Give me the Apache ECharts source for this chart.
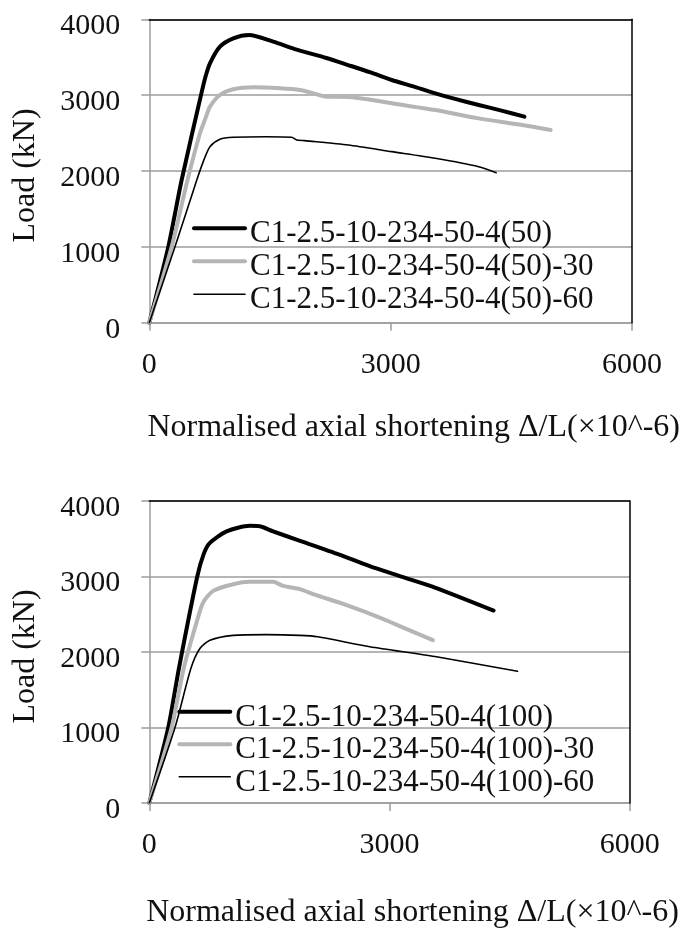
<!DOCTYPE html>
<html>
<head>
<meta charset="utf-8">
<script src="https://cdn.jsdelivr.net/npm/echarts@6/dist/echarts.min.js"></script>
<style>
  html, body { margin: 0; padding: 0; background: #fff; }
  #chart { width: 682px; height: 930px; }
</style>
</head>
<body>
<div id="chart"></div>
<script>
// Axis ticks
const xTicks = [0, 3000, 6000];
const yTicks = [0, 1000, 2000, 3000, 4000];

// Series names
const namesTop = ['C1-2.5-10-234-50-4(50)', 'C1-2.5-10-234-50-4(50)-30', 'C1-2.5-10-234-50-4(50)-60'];
const namesBottom = ['C1-2.5-10-234-50-4(100)', 'C1-2.5-10-234-50-4(100)-30', 'C1-2.5-10-234-50-4(100)-60'];

// Top panel: normalised shortening (×10^-6) and load (kN)
const top50X   = [0, 236, 402, 651, 700, 754, 878, 1044, 1240, 1540, 1831, 2200, 2472, 2750, 3013, 3300, 3554, 3800, 4094, 4365, 4662];
const top50Y   = [0, 1000, 1881, 3040, 3250, 3420, 3639, 3749, 3793, 3705, 3600, 3490, 3397, 3300, 3200, 3110, 3024, 2950, 2870, 2800, 2716];
const top50_30X = [0, 278, 475, 630, 700, 754, 878, 1044, 1292, 1624, 1872, 2050, 2201, 2472, 2750, 3013, 3554, 4094, 4635, 4987];
const top50_30Y = [0, 1000, 1881, 2497, 2700, 2848, 3002, 3077, 3103, 3090, 3068, 3020, 2980, 2975, 2940, 2892, 2804, 2694, 2606, 2540];
const top50_60X = [0, 319, 590, 680, 754, 878, 1044, 1458, 1769, 1831, 1931, 2472, 3013, 3554, 4094, 4311];
const top50_60Y = [0, 1000, 1881, 2150, 2320, 2418, 2444, 2452, 2444, 2410, 2400, 2343, 2255, 2167, 2057, 1978];

// Bottom panel
const bot100X   = [0, 237, 370, 599, 680, 757, 965, 1256, 1380, 1546, 1838, 2373, 2753, 3188, 3568, 4300];
const bot100Y   = [0, 1000, 1784, 3000, 3300, 3445, 3598, 3672, 3665, 3598, 3489, 3291, 3137, 2985, 2854, 2549];
const bot100_30X = [0, 279, 430, 591, 674, 798, 1048, 1256, 1546, 1671, 1880, 2047, 2482, 2916, 3296, 3541];
const bot100_30Y = [0, 1000, 1784, 2396, 2659, 2810, 2898, 2929, 2929, 2876, 2833, 2767, 2614, 2440, 2266, 2157];
const bot100_60X = [0, 321, 520, 632, 757, 1048, 1464, 1880, 2102, 2753, 3568, 4599];
const bot100_60Y = [0, 1000, 1784, 2046, 2155, 2220, 2230, 2220, 2201, 2070, 1940, 1744];

const FONT = 'Liberation Serif';
const TXT = '#111';
const GRID_GRAY = '#9c9c9c';
const LIGHT = '#b5b5b5';

function pairs(xs, ys) { return xs.map((x, i) => [x, ys[i]]); }
const plain = v => String(v);

function mainX(gridIndex, nameGap) {
  return {
    type: 'value', gridIndex, min: xTicks[0], max: xTicks[xTicks.length - 1], interval: xTicks[1] - xTicks[0],
    name: 'Normalised axial shortening \u0394/L(\u00d710^-6)',
    nameLocation: 'middle', nameGap,
    nameTextStyle: { fontFamily: FONT, fontSize: 32, color: TXT, padding: [0, 0, 0, 46] },
    axisLine: { show: true, onZero: false, lineStyle: { color: GRID_GRAY, width: 1.5 } },
    axisTick: { show: true, inside: false, length: 8, lineStyle: { color: GRID_GRAY, width: 1.5 } },
    axisLabel: { fontFamily: FONT, fontSize: 30, color: TXT, margin: 27, formatter: plain },
    splitLine: { show: false }
  };
}
function borderX(gridIndex) {
  return {
    type: 'value', gridIndex, position: 'top', min: xTicks[0], max: xTicks[xTicks.length - 1], z: 10,
    axisLine: { show: true, onZero: false, lineStyle: { color: '#000', width: 1.5 } },
    axisTick: { show: false }, axisLabel: { show: false }, splitLine: { show: false }
  };
}
function mainY(gridIndex) {
  return {
    type: 'value', gridIndex, min: yTicks[0], max: yTicks[yTicks.length - 1], interval: yTicks[1] - yTicks[0],
    name: 'Load (kN)', nameLocation: 'middle', nameGap: 108,
    nameTextStyle: { fontFamily: FONT, fontSize: 32, color: TXT, padding: [0, 9, 0, 0] },
    axisLine: { show: true, onZero: false, lineStyle: { color: GRID_GRAY, width: 1.5 } },
    axisTick: { show: true, inside: false, length: 8, lineStyle: { color: GRID_GRAY, width: 1.5 } },
    axisLabel: { fontFamily: FONT, fontSize: 30, color: TXT, margin: 29, formatter: plain,
                 verticalAlign: 'top', lineHeight: 14 },
    splitLine: { show: true, lineStyle: { color: GRID_GRAY, width: 1.5 } }
  };
}
function borderY(gridIndex) {
  return {
    type: 'value', gridIndex, position: 'right', min: yTicks[0], max: yTicks[yTicks.length - 1], z: 10,
    axisLine: { show: true, onZero: false, lineStyle: { color: '#000', width: 1.5 } },
    axisTick: { show: false }, axisLabel: { show: false }, splitLine: { show: false }
  };
}
function line(name, data, xi, yi, color, width) {
  return {
    type: 'line', name, data, xAxisIndex: xi, yAxisIndex: yi,
    showSymbol: false, symbol: 'none', smooth: 0.25, z: 5,
    lineStyle: { color, width, cap: 'round', join: 'round' }, itemStyle: { color },
    emphasis: { disabled: true }
  };
}
// Legend labels sit a little below their line samples: the label token gets
// extra top padding (rows become 43px tall, pulled back with a negative gap).
function legend(names, left, top, gap) {
  return {
    data: names, orient: 'vertical', left, top, padding: 0, itemGap: gap,
    itemWidth: 51, itemHeight: 4, selectedMode: false,
    lineStyle: { width: 'inherit' },
    itemStyle: { opacity: 0 },
    formatter: '{a|{name}}',
    textStyle: {
      fontFamily: FONT, fontSize: 31, color: TXT,
      rich: {
        a: { fontFamily: FONT, fontSize: 31, color: TXT, lineHeight: 21, padding: [12, 0, 0, 0] }
      }
    }
  };
}

const chart = echarts.init(document.getElementById('chart'), null, { renderer: 'canvas' });
chart.setOption({
  animation: false,
  backgroundColor: '#fff',
  grid: [
    { left: 149.3, top: 19.3, width: 483, height: 303.4 },
    { left: 149.3, top: 501, width: 480.4, height: 305 }
  ],
  xAxis: [mainX(0, 89), borderX(0), mainX(1, 94), borderX(1)],
  yAxis: [mainY(0), borderY(0), mainY(1), borderY(1)],
  legend: [legend(namesTop, 192, 206.8, -10), legend(namesBottom, 177.3, 690.2, -10.5)],
  series: [
    line(namesTop[0], pairs(top50X, top50Y), 0, 0, '#000', 4),
    line(namesTop[1], pairs(top50_30X, top50_30Y), 0, 0, LIGHT, 4),
    line(namesTop[2], pairs(top50_60X, top50_60Y), 0, 0, '#000', 1.6),
    line(namesBottom[0], pairs(bot100X, bot100Y), 2, 2, '#000', 4),
    line(namesBottom[1], pairs(bot100_30X, bot100_30Y), 2, 2, LIGHT, 4),
    line(namesBottom[2], pairs(bot100_60X, bot100_60Y), 2, 2, '#000', 1.6)
  ]
});
</script>
</body>
</html>
